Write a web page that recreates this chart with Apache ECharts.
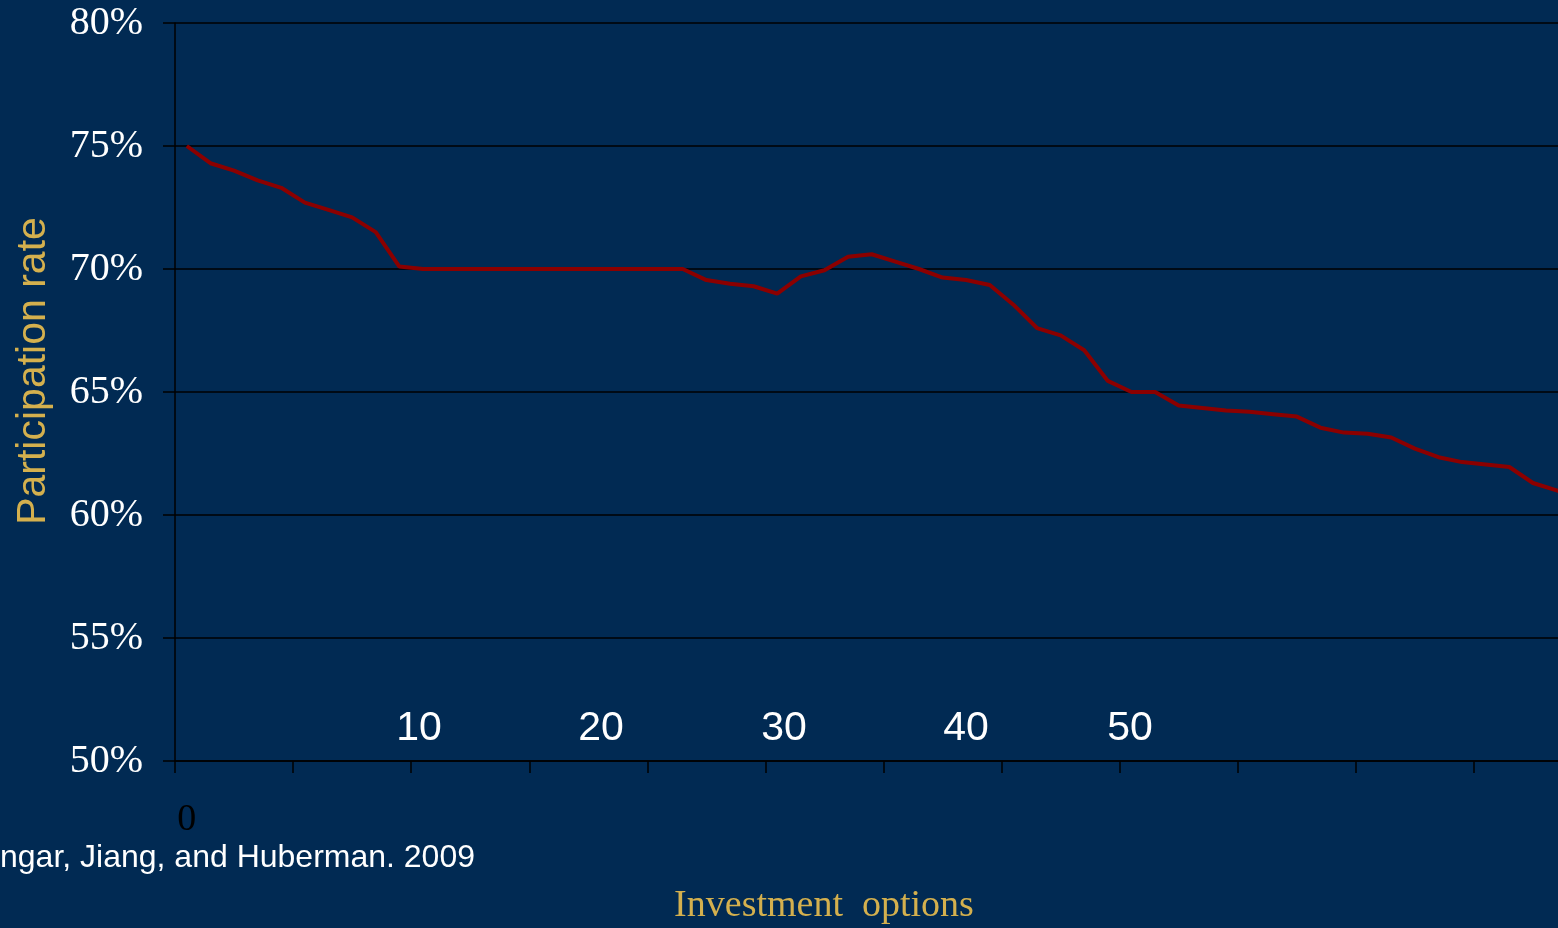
<!DOCTYPE html>
<html>
<head>
<meta charset="utf-8">
<script src="https://cdn.jsdelivr.net/npm/echarts@6/dist/echarts.min.js"></script>
<style>
  html, body { margin: 0; padding: 0; background: #012a53; }
  #main { width: 1558px; height: 928px; }
</style>
</head>
<body>
<div id="main"></div>
<script>
var dom = document.getElementById("main");
var myChart = echarts.init(dom, null, { renderer: "canvas" });

// number of investment options (one point per option)
var options = [];
for (var i = 0; i < 60; i++) options.push(String(i));

// participation rate, %
var rate = [
  75.0, 74.3, 74.0, 73.6, 73.3, 72.7, 72.4, 72.1, 71.5, 70.1,
  70.0, 70.0, 70.0, 70.0, 70.0, 70.0, 70.0, 70.0, 70.0, 70.0,
  70.0, 70.0, 69.55, 69.4, 69.3, 69.0, 69.7, 69.95, 70.5, 70.6,
  70.3, 70.0, 69.65, 69.55, 69.35, 68.55, 67.6, 67.3, 66.7, 65.45,
  65.0, 65.0, 64.45, 64.35, 64.25, 64.2, 64.1, 64.0, 63.55, 63.35,
  63.3, 63.15, 62.7, 62.35, 62.15, 62.05, 61.95, 61.3, 61.0, 60.7
];

// labels typed on the slide over the plot
var overlayLabels = ["10", "20", "30", "40", "50"];
var overlayX = [419, 601, 784, 966, 1130];

var gold = "#d4b04e";

var graphics = overlayLabels.map(function (t, k) {
  return {
    type: "text",
    x: overlayX[k],
    y: 729,
    style: {
      text: t,
      fill: "#ffffff",
      font: "41px 'Liberation Sans', Arial, sans-serif",
      textAlign: "center",
      textVerticalAlign: "middle"
    }
  };
});

graphics.push({
  type: "text",
  x: 34,
  y: 371,
  rotation: Math.PI / 2,
  style: {
    text: "Participation rate",
    fill: gold,
    font: "41px 'Liberation Sans', Arial, sans-serif",
    textAlign: "center",
    textVerticalAlign: "middle"
  }
});

graphics.push({
  type: "text",
  x: 824,
  y: 906,
  style: {
    text: "Investment  options",
    fill: gold,
    font: "38px 'Liberation Serif', 'Times New Roman', serif",
    textAlign: "center",
    textVerticalAlign: "middle"
  }
});

graphics.push({
  type: "text",
  x: 0,
  y: 858,
  style: {
    text: "ngar, Jiang, and Huberman. 2009",
    fill: "#ffffff",
    font: "32px 'Liberation Sans', Arial, sans-serif",
    textAlign: "left",
    textVerticalAlign: "middle"
  }
});

option = {
  backgroundColor: "#012a53",
  animation: false,
  grid: {
    left: 175,
    top: 23,
    bottom: 167,
    width: 1417,
    outerBoundsMode: "none",
    containLabel: false
  },
  xAxis: {
    type: "category",
    data: options,
    boundaryGap: true,
    axisLine: { lineStyle: { color: "#000000", width: 1.5 } },
    axisTick: {
      show: true,
      interval: 4,
      length: 12,
      lineStyle: { color: "#000000", width: 1.5 }
    },
    axisLabel: {
      interval: function (index) { return index === 0; },
      margin: 40,
      color: "#000000",
      fontFamily: "'Liberation Serif', 'Times New Roman', serif",
      fontSize: 38
    },
    splitLine: { show: false }
  },
  yAxis: {
    type: "value",
    min: 50,
    max: 80,
    interval: 5,
    axisLine: { show: true, lineStyle: { color: "#000000", width: 1.5 } },
    axisTick: {
      show: true,
      length: 12,
      lineStyle: { color: "#000000", width: 1.5 }
    },
    axisLabel: {
      formatter: "{value}%",
      margin: 32,
      color: "#ffffff",
      fontFamily: "'Liberation Serif', 'Times New Roman', serif",
      fontSize: 40
    },
    splitLine: { show: true, lineStyle: { color: "#000000", width: 1.5 } }
  },
  series: [
    {
      type: "line",
      data: rate,
      symbol: "none",
      smooth: false,
      lineStyle: { color: "#8b0000", width: 4 }
    }
  ],
  graphic: graphics
};

myChart.setOption(option);
</script>
</body>
</html>
